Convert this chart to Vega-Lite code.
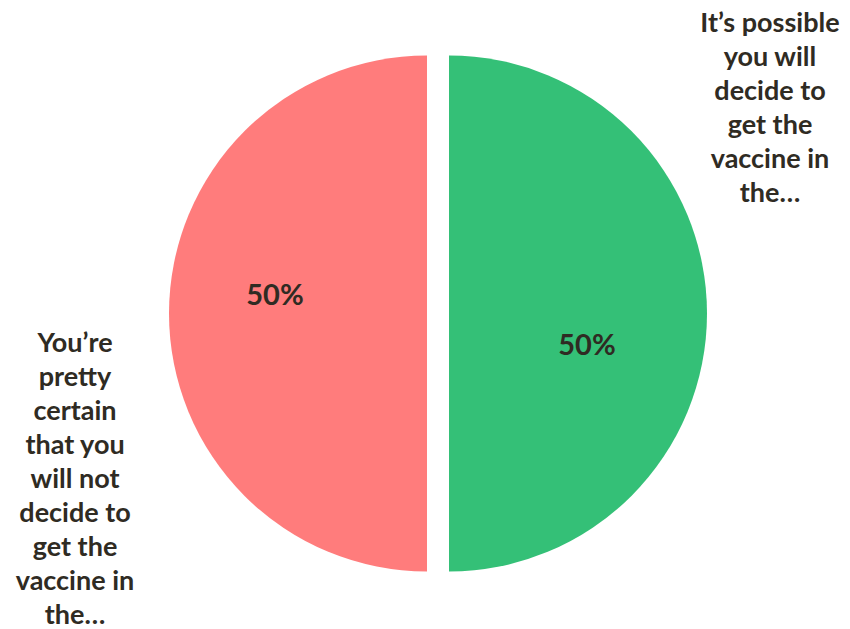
{
  "$schema": "https://vega.github.io/schema/vega-lite/v6.json",
  "autosize": {"type": "fit", "contains": "padding"},
  "width": 850,
  "height": 629,
  "padding": {"left": 26, "right": 0, "top": 0, "bottom": 0},
  "background": "white",
  "view": {"stroke": null},
  "config": {"text": {"font": "Lato", "fontWeight": "bold", "fontSize": 27, "color": "#2F2B23"}},
  "data": {
    "values": [
      {"category": "It’s possible you will decide to get the vaccine in the…", "label": "It’s possible\nyou will\ndecide to\nget the\nvaccine in\nthe…", "share": 0.5},
      {"category": "You’re pretty certain that you will not decide to get the vaccine in the…", "label": "You’re\npretty\ncertain\nthat you\nwill not\ndecide to\nget the\nvaccine in\nthe…", "share": 0.5}
    ]
  },
  "transform": [
    {"stack": "share", "groupby": [], "sort": [{"field": "category", "order": "ascending"}], "as": ["s0", "s1"]}
  ],
  "encoding": {
    "theta": {"field": "s0", "type": "quantitative", "scale": {"domain": [0, 1], "range": [0, 6.283185307179586]}},
    "theta2": {"field": "s1"}
  },
  "layer": [
    {
      "transform": [{"filter": "indexof(datum.category, 'It') === 0"}],
      "layer": [
        {"mark": {"type": "arc", "outerRadius": 258, "color": "#34C077", "xOffset": 11, "yOffset": -1}},
        {"mark": {"type": "text", "align": "center", "baseline": "middle", "fontSize": 29, "xOffset": 149, "yOffset": 31}, "encoding": {"theta": null, "theta2": null, "text": {"field": "share", "type": "quantitative", "format": ".0%"}}},
        {"mark": {"type": "text", "align": "center", "baseline": "alphabetic", "lineBreak": "\n", "lineHeight": 34, "xOffset": 332, "yOffset": -282.5}, "encoding": {"theta": null, "theta2": null, "text": {"field": "label", "type": "nominal"}}}
      ]
    },
    {
      "transform": [{"filter": "indexof(datum.category, 'You') === 0"}],
      "layer": [
        {"mark": {"type": "arc", "outerRadius": 258, "color": "#FF7C7C", "xOffset": -11, "yOffset": -1}},
        {"mark": {"type": "text", "align": "center", "baseline": "middle", "fontSize": 29, "xOffset": -163, "yOffset": -18.5}, "encoding": {"theta": null, "theta2": null, "text": {"field": "share", "type": "quantitative", "format": ".0%"}}},
        {"mark": {"type": "text", "align": "center", "baseline": "alphabetic", "lineBreak": "\n", "lineHeight": 34, "xOffset": -363, "yOffset": 37.5}, "encoding": {"theta": null, "theta2": null, "text": {"field": "label", "type": "nominal"}}}
      ]
    }
  ]
}
